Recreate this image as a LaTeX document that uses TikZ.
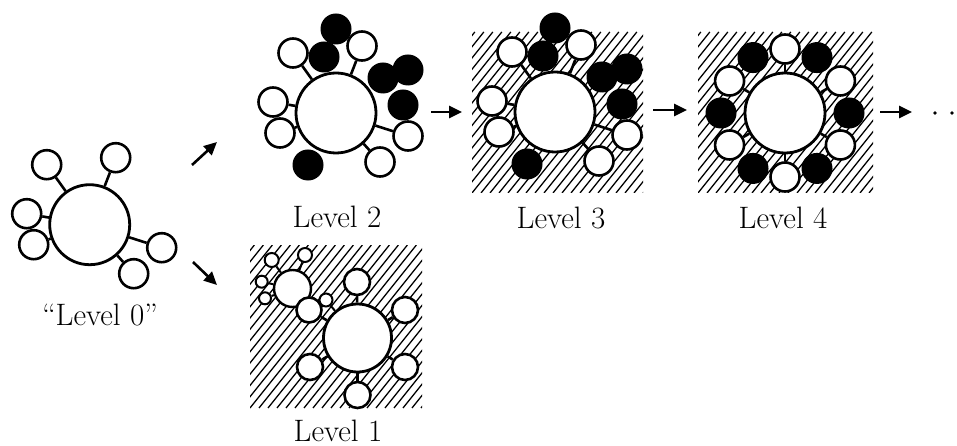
\documentclass[tikz,border=0pt]{standalone}
\usetikzlibrary{arrows.meta}
\tikzset{
  opencirc/.style={circle, draw, line width=2.6pt, fill=white, minimum size=29pt, inner sep=0pt},
  darkcirc/.style={circle, draw, line width=1pt, fill=black, minimum size=30pt, inner sep=0pt},
  hubcirc/.style={circle, draw, line width=2.8pt, fill=white, minimum size=80pt, inner sep=0pt},
  link/.style={line width=2.6pt},
  hatchline/.style={line width=1.3pt},
  flow/.style={line width=2.6pt, -{Triangle[length=13pt,width=12pt]}},
  lbl/.style={font=\fontsize{31}{36}\selectfont, anchor=base, inner sep=0pt},
}
\newcommand\hatchbox[4]{%
  \begin{scope}
    \clip (#1,#2) rectangle (#3,#4);
    \foreach \i in {-18,...,23}
      \draw[hatchline] ({#1+\i*9},#4) -- ++({0.8*(#4-#2)},{-(#4-#2)});
  \end{scope}}
\newcommand\openset[1]{%
  \node[hubcirc] (#1c) at (0,0) {};
  \node[opencirc] (#1a) at (-43,-60) {};
  \node[opencirc] (#1b) at (26,-67) {};
  \node[opencirc] (#1d) at (-63,-11) {};
  \node[opencirc] (#1e) at (-56,20) {};
  \node[opencirc] (#1f) at (72,23) {};
  \node[opencirc] (#1g) at (44,49) {};
  \foreach \n in {a,b,d,e,f,g} \draw[link] (#1c) -- (#1\n);}
\newcommand\darkset[1]{%
  \node[darkcirc] (#1k1) at (0,-84) {};
  \node[darkcirc] (#1k2) at (-12,-56) {};
  \node[darkcirc] (#1k3) at (47,-35) {};
  \node[darkcirc] (#1k4) at (72,-43) {};
  \node[darkcirc] (#1k5) at (67,-8) {};
  \node[darkcirc] (#1k6) at (-28,52) {};}
\begin{document}
\begin{tikzpicture}[x=1pt,y=-1pt]
\useasboundingbox (0,0) rectangle (957,446);

% hatched backgrounds
\hatchbox{472}{32}{643}{193}
\hatchbox{698}{32}{873}{193}
\hatchbox{250}{245}{422}{408}

% Level 0
\begin{scope}[shift={(89.7,224.7)}]
  \openset{z}
\end{scope}

% Level 2
\begin{scope}[shift={(336,113)}]
  \openset{p}
  \darkset{p}
\end{scope}

% Level 3
\begin{scope}[shift={(555,112)}]
  \openset{q}
  \darkset{q}
\end{scope}

% Level 4
\begin{scope}[shift={(785,113)}]
  \node[hubcirc] (mc) at (0,0) {};
  \foreach \a/\n in {90/1,30/2,-30/3,-90/4,-150/5,150/6} {
    \node[opencirc] (mo\n) at (\a:64) {};
    \draw[link] (mc) -- (mo\n);
  }
  \foreach \a/\n in {60/1,0/2,-60/3,-120/4,180/5,120/6}
    \node[darkcirc] (mk\n) at (\a:64) {};
\end{scope}

% Level 1
\node[hubcirc, minimum size=68pt] (hc) at (357.5,338) {};
\node[opencirc, minimum size=26pt] (h1) at (357,282) {};
\node[opencirc, minimum size=26pt] (h2) at (405,310) {};
\node[opencirc, minimum size=26pt] (h3) at (405,367) {};
\node[opencirc, minimum size=26pt] (h4) at (357.5,395) {};
\node[opencirc, minimum size=26pt] (h5) at (310,367) {};
\foreach \n in {1,...,5} \draw[link] (hc) -- (h\n);
\node[opencirc, minimum size=37pt, line width=2.4pt] (hm) at (292.5,288.5) {};
\node[opencirc, minimum size=25pt] (h6) at (309,310) {};
\draw[link] (hc) -- (h6);
\node[opencirc, minimum size=14pt, line width=2pt] (t1) at (271.7,260) {};
\node[opencirc, minimum size=14pt, line width=2pt] (t2) at (305,255) {};
\node[opencirc, minimum size=12pt, line width=2pt] (t3) at (261.7,281.7) {};
\node[opencirc, minimum size=12pt, line width=2pt] (t4) at (265,298.3) {};
\node[opencirc, minimum size=13pt, line width=2pt] (t5) at (326,300) {};
\foreach \n in {1,...,4} \draw[line width=2pt] (hm) -- (t\n);
\draw[line width=2pt] (hc) -- (t5);

% arrows
\coordinate (u1) at (192,165); \coordinate (u2) at (217,142);
\coordinate (d1) at (193,262); \coordinate (d2) at (217,285);
\coordinate (r1) at (431,112); \coordinate (r2) at (462,112);
\coordinate (s1) at (653,110); \coordinate (s2) at (687,110);
\coordinate (w1) at (880,112); \coordinate (w2) at (912,112);
\draw[flow] (u1) -- (u2);
\draw[flow] (d1) -- (d2);
\draw[flow] (r1) -- (r2);
\draw[flow] (s1) -- (s2);
\draw[flow] (w1) -- (w2);
\fill (935,113) circle (1.8pt);
\fill (952,113) circle (1.8pt);

% labels
\node[lbl] (l0) at (100,325) {``Level 0''};
\node[lbl] (l2) at (337,228) {Level 2};
\node[lbl] (l3) at (561,229) {Level 3};
\node[lbl] (l4) at (783,229) {Level 4};
\node[lbl] (l1) at (338,441) {Level 1};
\end{tikzpicture}
\end{document}
